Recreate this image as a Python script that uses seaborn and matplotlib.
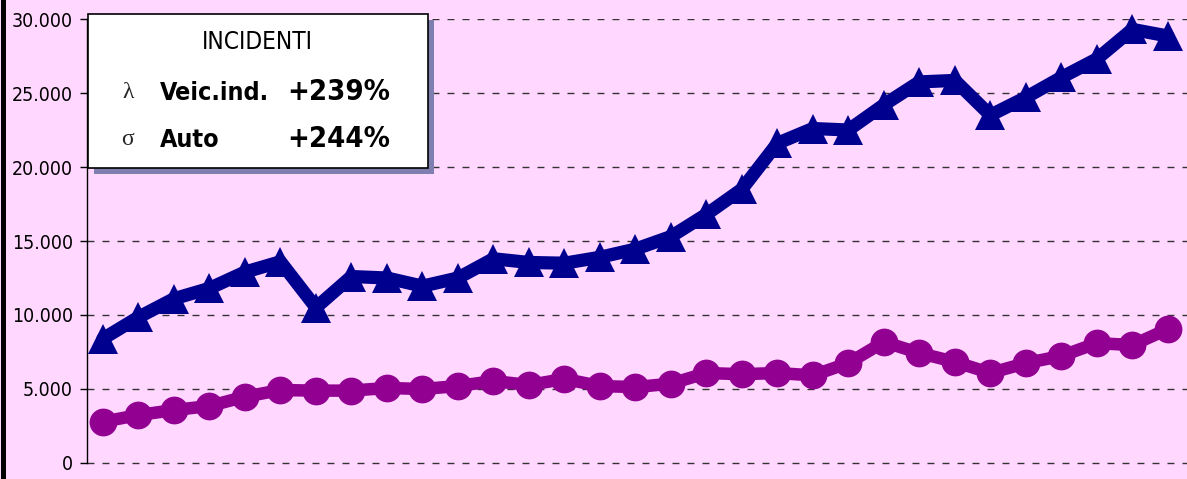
import matplotlib
matplotlib.use('Agg')
import matplotlib.pyplot as plt
import seaborn as sns
import pandas as pd
from matplotlib.patches import Rectangle
from matplotlib.lines import Line2D
from matplotlib.ticker import FuncFormatter

# one point per year, 31 years (x labels are not shown in the chart)
anni = list(range(31))
veic_ind = [8400, 9850, 11100, 11800, 12900, 13600, 10500, 12600, 12500, 11950,
            12500, 13800, 13550, 13500, 13900, 14450, 15300, 16800, 18500, 21600,
            22600, 22500, 24200, 25750, 25850, 23500, 24700, 26050, 27300, 29300,
            28850]
auto = [2790, 3240, 3580, 3850, 4480, 4930, 4890, 4890, 5070, 5000,
        5200, 5540, 5270, 5680, 5200, 5130, 5360, 6080, 6000, 6080,
        5920, 6750, 8180, 7430, 6830, 6080, 6750, 7230, 8100, 7970,
        9050]
y_ticks = [0, 5000, 10000, 15000, 20000, 25000, 30000]

titolo = "INCIDENTI"
righe_legenda = [("\u03bb", "Veic.ind.", "+239%"), ("\u03c3", "Auto", "+244%")]

PINK = '#FFD7FF'
BLUE = '#00008F'
PURPLE = '#920092'

sns.set_theme(style="white")
plt.rcParams['font.family'] = ['DejaVu Sans']
plt.rcParams['font.stretch'] = 'condensed'

df = pd.DataFrame({'anno': anni, 'veic': veic_ind, 'auto': auto})

W, H = 1187, 479
PX = 444 / 30000  # pixels per unit on y
fig = plt.figure(figsize=(W / 100, H / 100), dpi=100, facecolor=PINK)
# y from -800 (bottom of the figure area) to 30000 (px 19)
ax = fig.add_axes([87 / W, (479 - 463 - 800 * PX) / H, (W - 87) / W, (444 + 800 * PX) / H])
ax.set_facecolor(PINK)

sns.lineplot(data=df, x='anno', y='auto', ax=ax, color=PURPLE, linewidth=9,
             marker='o', markersize=20, markeredgewidth=0, clip_on=False, zorder=3)
sns.lineplot(data=df, x='anno', y='veic', ax=ax, color=BLUE, linewidth=9.5,
             marker='^', markersize=21, markeredgewidth=0, clip_on=False, zorder=4)

ax.set_xlim(-0.45, 30.54)
ax.set_ylim(-800, 30000)
ax.set_yticks(y_ticks)
ax.yaxis.set_major_formatter(FuncFormatter(lambda v, p: f"{int(v):,}".replace(",", ".")))
ax.set_xticks([])
ax.set_xlabel('')
ax.set_ylabel('')
ax.tick_params(axis='y', left=True, length=5, width=1, color='black', pad=5,
               labelsize=14, labelcolor='black')
ax.yaxis.grid(True, linestyle=(0, (5, 5.8)), color='#333333', linewidth=1)
ax.set_axisbelow(True)
for s in ['top', 'right', 'bottom']:
    ax.spines[s].set_visible(False)
ax.spines['left'].set_color('black')
ax.spines['left'].set_linewidth(1)
ax.spines['left'].set_bounds(0, 30000)

# left frame of the chart
fig.add_artist(Line2D([2.5 / W, 2.5 / W], [0, 1], color='black', linewidth=3.6,
                      transform=fig.transFigure))


def fx(px):
    return px / W


def fy(px):
    return 1 - px / H


# legend box with shadow
fig.add_artist(Rectangle((fx(94), fy(174)), (428 - 88) / W, (168 - 14) / H,
                         transform=fig.transFigure, facecolor='#7F7FAF',
                         edgecolor='none', zorder=10))
fig.add_artist(Rectangle((fx(88), fy(168)), (428 - 88) / W, (168 - 14) / H,
                         transform=fig.transFigure, facecolor='white',
                         edgecolor='black', linewidth=1.2, zorder=11))

fig.text(fx(257), fy(42), titolo, ha='center', va='center', fontsize=17.5,
         color='black', zorder=12)
for i, (sym, nome, perc) in enumerate(righe_legenda):
    base = 100 + i * 47
    fig.text(fx(128), fy(base - 2), sym, ha='center', va='baseline', fontsize=17,
             family=['Liberation Serif', 'DejaVu Serif'], stretch='normal', zorder=12)
    fig.text(fx(160), fy(base), nome, ha='left', va='baseline', fontsize=18,
             fontweight='bold', color='black', zorder=12)
    fig.text(fx(390), fy(base), perc, ha='right', va='baseline', fontsize=21,
             fontweight='bold', color='black', zorder=12)

fig.savefig('out.png', dpi=100, facecolor=PINK)
